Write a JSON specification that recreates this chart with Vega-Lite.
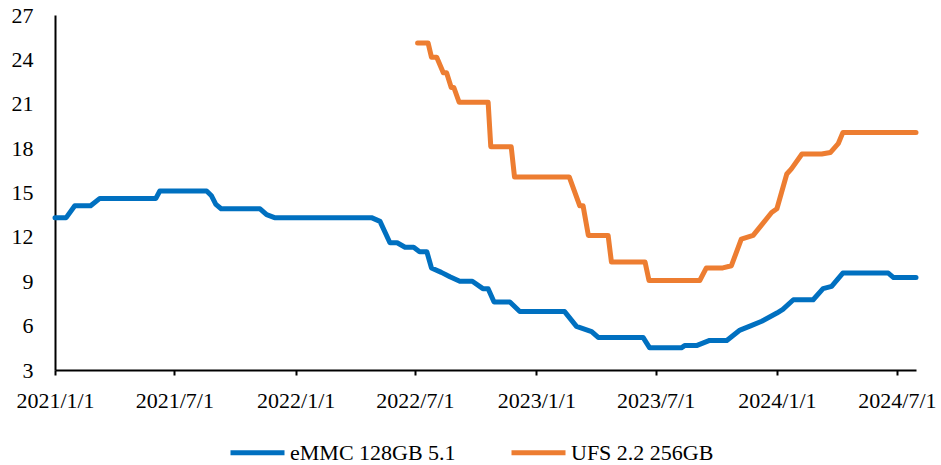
{
  "$schema": "https://vega.github.io/schema/vega-lite/v6.json",
  "width": 861,
  "height": 355,
  "autosize": {"type": "none"},
  "padding": {"left": 55, "top": 15, "right": 25, "bottom": 95},
  "background": "white",
  "config": {
    "view": {"stroke": null},
    "font": "Liberation Serif",
    "axis": {"labelFont": "Liberation Serif", "labelFontSize": 22, "labelColor": "#000000", "domainColor": "#000000", "domainWidth": 2, "tickColor": "#000000", "tickWidth": 2, "grid": false, "title": null},
    "legend": {"labelFont": "Liberation Serif", "labelFontSize": 22, "labelColor": "#000000"}
  },
  "data": {
    "values": [
      {"date": "2021-01-01", "series": "eMMC 128GB 5.1", "price": 13.3},
      {"date": "2021-01-18", "series": "eMMC 128GB 5.1", "price": 13.3},
      {"date": "2021-01-31", "series": "eMMC 128GB 5.1", "price": 14.1},
      {"date": "2021-02-24", "series": "eMMC 128GB 5.1", "price": 14.1},
      {"date": "2021-03-10", "series": "eMMC 128GB 5.1", "price": 14.6},
      {"date": "2021-06-03", "series": "eMMC 128GB 5.1", "price": 14.6},
      {"date": "2021-06-09", "series": "eMMC 128GB 5.1", "price": 15.1},
      {"date": "2021-08-19", "series": "eMMC 128GB 5.1", "price": 15.1},
      {"date": "2021-08-26", "series": "eMMC 128GB 5.1", "price": 14.8},
      {"date": "2021-09-02", "series": "eMMC 128GB 5.1", "price": 14.2},
      {"date": "2021-09-10", "series": "eMMC 128GB 5.1", "price": 13.9},
      {"date": "2021-11-08", "series": "eMMC 128GB 5.1", "price": 13.9},
      {"date": "2021-11-18", "series": "eMMC 128GB 5.1", "price": 13.5},
      {"date": "2021-11-30", "series": "eMMC 128GB 5.1", "price": 13.3},
      {"date": "2022-04-26", "series": "eMMC 128GB 5.1", "price": 13.3},
      {"date": "2022-05-09", "series": "eMMC 128GB 5.1", "price": 13.05},
      {"date": "2022-05-24", "series": "eMMC 128GB 5.1", "price": 11.6},
      {"date": "2022-06-04", "series": "eMMC 128GB 5.1", "price": 11.6},
      {"date": "2022-06-16", "series": "eMMC 128GB 5.1", "price": 11.3},
      {"date": "2022-06-29", "series": "eMMC 128GB 5.1", "price": 11.3},
      {"date": "2022-07-08", "series": "eMMC 128GB 5.1", "price": 11.0},
      {"date": "2022-07-19", "series": "eMMC 128GB 5.1", "price": 11.0},
      {"date": "2022-07-26", "series": "eMMC 128GB 5.1", "price": 9.9},
      {"date": "2022-08-10", "series": "eMMC 128GB 5.1", "price": 9.6},
      {"date": "2022-08-23", "series": "eMMC 128GB 5.1", "price": 9.3},
      {"date": "2022-09-07", "series": "eMMC 128GB 5.1", "price": 9.0},
      {"date": "2022-09-26", "series": "eMMC 128GB 5.1", "price": 9.0},
      {"date": "2022-10-12", "series": "eMMC 128GB 5.1", "price": 8.5},
      {"date": "2022-10-20", "series": "eMMC 128GB 5.1", "price": 8.5},
      {"date": "2022-10-29", "series": "eMMC 128GB 5.1", "price": 7.6},
      {"date": "2022-11-22", "series": "eMMC 128GB 5.1", "price": 7.6},
      {"date": "2022-12-07", "series": "eMMC 128GB 5.1", "price": 6.95},
      {"date": "2023-02-13", "series": "eMMC 128GB 5.1", "price": 6.95},
      {"date": "2023-03-03", "series": "eMMC 128GB 5.1", "price": 5.95},
      {"date": "2023-03-26", "series": "eMMC 128GB 5.1", "price": 5.6},
      {"date": "2023-04-05", "series": "eMMC 128GB 5.1", "price": 5.2},
      {"date": "2023-06-12", "series": "eMMC 128GB 5.1", "price": 5.2},
      {"date": "2023-06-22", "series": "eMMC 128GB 5.1", "price": 4.5},
      {"date": "2023-08-09", "series": "eMMC 128GB 5.1", "price": 4.5},
      {"date": "2023-08-14", "series": "eMMC 128GB 5.1", "price": 4.65},
      {"date": "2023-09-01", "series": "eMMC 128GB 5.1", "price": 4.65},
      {"date": "2023-09-21", "series": "eMMC 128GB 5.1", "price": 5.0},
      {"date": "2023-10-17", "series": "eMMC 128GB 5.1", "price": 5.0},
      {"date": "2023-11-06", "series": "eMMC 128GB 5.1", "price": 5.7},
      {"date": "2023-11-23", "series": "eMMC 128GB 5.1", "price": 6.0},
      {"date": "2023-12-09", "series": "eMMC 128GB 5.1", "price": 6.3},
      {"date": "2024-01-01", "series": "eMMC 128GB 5.1", "price": 6.85},
      {"date": "2024-01-10", "series": "eMMC 128GB 5.1", "price": 7.1},
      {"date": "2024-01-26", "series": "eMMC 128GB 5.1", "price": 7.75},
      {"date": "2024-02-25", "series": "eMMC 128GB 5.1", "price": 7.75},
      {"date": "2024-03-11", "series": "eMMC 128GB 5.1", "price": 8.5},
      {"date": "2024-03-24", "series": "eMMC 128GB 5.1", "price": 8.65},
      {"date": "2024-04-10", "series": "eMMC 128GB 5.1", "price": 9.55},
      {"date": "2024-06-18", "series": "eMMC 128GB 5.1", "price": 9.55},
      {"date": "2024-06-26", "series": "eMMC 128GB 5.1", "price": 9.25},
      {"date": "2024-07-30", "series": "eMMC 128GB 5.1", "price": 9.25},
      {"date": "2022-07-05", "series": "UFS 2.2 256GB", "price": 25.1},
      {"date": "2022-07-21", "series": "UFS 2.2 256GB", "price": 25.1},
      {"date": "2022-07-26", "series": "UFS 2.2 256GB", "price": 24.15},
      {"date": "2022-08-03", "series": "UFS 2.2 256GB", "price": 24.15},
      {"date": "2022-08-13", "series": "UFS 2.2 256GB", "price": 23.1},
      {"date": "2022-08-18", "series": "UFS 2.2 256GB", "price": 23.1},
      {"date": "2022-08-25", "series": "UFS 2.2 256GB", "price": 22.1},
      {"date": "2022-08-29", "series": "UFS 2.2 256GB", "price": 22.1},
      {"date": "2022-09-06", "series": "UFS 2.2 256GB", "price": 21.1},
      {"date": "2022-10-20", "series": "UFS 2.2 256GB", "price": 21.1},
      {"date": "2022-10-24", "series": "UFS 2.2 256GB", "price": 18.1},
      {"date": "2022-11-24", "series": "UFS 2.2 256GB", "price": 18.1},
      {"date": "2022-11-29", "series": "UFS 2.2 256GB", "price": 16.05},
      {"date": "2023-02-20", "series": "UFS 2.2 256GB", "price": 16.05},
      {"date": "2023-03-08", "series": "UFS 2.2 256GB", "price": 14.1},
      {"date": "2023-03-13", "series": "UFS 2.2 256GB", "price": 14.1},
      {"date": "2023-03-21", "series": "UFS 2.2 256GB", "price": 12.1},
      {"date": "2023-04-20", "series": "UFS 2.2 256GB", "price": 12.1},
      {"date": "2023-04-25", "series": "UFS 2.2 256GB", "price": 10.3},
      {"date": "2023-06-15", "series": "UFS 2.2 256GB", "price": 10.3},
      {"date": "2023-06-21", "series": "UFS 2.2 256GB", "price": 9.05},
      {"date": "2023-09-06", "series": "UFS 2.2 256GB", "price": 9.05},
      {"date": "2023-09-16", "series": "UFS 2.2 256GB", "price": 9.9},
      {"date": "2023-10-11", "series": "UFS 2.2 256GB", "price": 9.9},
      {"date": "2023-10-24", "series": "UFS 2.2 256GB", "price": 10.05},
      {"date": "2023-11-08", "series": "UFS 2.2 256GB", "price": 11.85},
      {"date": "2023-11-26", "series": "UFS 2.2 256GB", "price": 12.1},
      {"date": "2023-12-24", "series": "UFS 2.2 256GB", "price": 13.65},
      {"date": "2024-01-01", "series": "UFS 2.2 256GB", "price": 13.9},
      {"date": "2024-01-16", "series": "UFS 2.2 256GB", "price": 16.25},
      {"date": "2024-01-23", "series": "UFS 2.2 256GB", "price": 16.6},
      {"date": "2024-02-08", "series": "UFS 2.2 256GB", "price": 17.6},
      {"date": "2024-03-09", "series": "UFS 2.2 256GB", "price": 17.6},
      {"date": "2024-03-22", "series": "UFS 2.2 256GB", "price": 17.7},
      {"date": "2024-04-03", "series": "UFS 2.2 256GB", "price": 18.3},
      {"date": "2024-04-10", "series": "UFS 2.2 256GB", "price": 19.05},
      {"date": "2024-07-30", "series": "UFS 2.2 256GB", "price": 19.05}
    ]
  },
  "mark": {"type": "line", "strokeWidth": 5, "strokeJoin": "round", "strokeCap": "round"},
  "encoding": {
    "x": {
      "field": "date",
      "type": "temporal",
      "scale": {
        "type": "utc",
        "domain": [
          {"year": 2021, "month": 1, "date": 1, "utc": true},
          {"year": 2024, "month": 7, "date": 30, "utc": true}
        ],
        "nice": false
      },
      "axis": {
        "values": [
          {"year": 2021, "month": 1, "date": 1, "utc": true},
          {"year": 2021, "month": 7, "date": 1, "utc": true},
          {"year": 2022, "month": 1, "date": 1, "utc": true},
          {"year": 2022, "month": 7, "date": 1, "utc": true},
          {"year": 2023, "month": 1, "date": 1, "utc": true},
          {"year": 2023, "month": 7, "date": 1, "utc": true},
          {"year": 2024, "month": 1, "date": 1, "utc": true},
          {"year": 2024, "month": 7, "date": 1, "utc": true}
        ],
        "format": "%Y/%-m/%-d",
        "tickSize": 5,
        "labelPadding": 15,
        "labelOverlap": false,
        "labelFlush": false
      }
    },
    "y": {
      "field": "price",
      "type": "quantitative",
      "scale": {"domain": [3, 27], "nice": false, "zero": false},
      "axis": {
        "values": [3, 6, 9, 12, 15, 18, 21, 24, 27],
        "ticks": false,
        "labelPadding": 22
      }
    },
    "color": {
      "field": "series",
      "type": "nominal",
      "scale": {"domain": ["eMMC 128GB 5.1", "UFS 2.2 256GB"], "range": ["#0070C0", "#ED7D31"]},
      "legend": {
        "title": null,
        "orient": "none",
        "direction": "horizontal",
        "legendX": 173,
        "legendY": 408,
        "symbolType": "stroke",
        "symbolSize": 2916,
        "symbolStrokeWidth": 5,
        "labelOffset": 3,
        "columnPadding": 45,
        "labelLimit": 400,
        "padding": 0
      }
    }
  }
}
